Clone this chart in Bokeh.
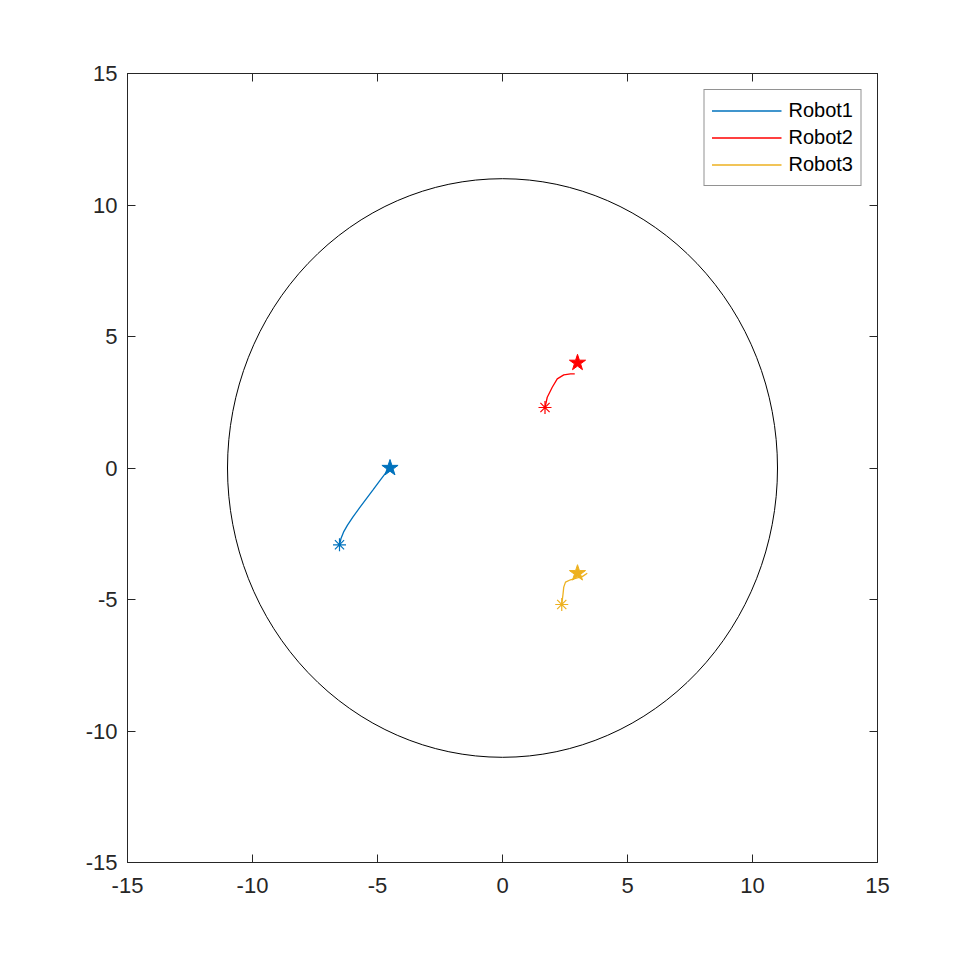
from bokeh.plotting import figure
from bokeh.models import Range1d, LinearAxis, FixedTicker, Legend, LegendItem
from bokeh.embed import file_html
from bokeh.resources import INLINE

# Data
ticks = [-15, -10, -5, 0, 5, 10, 15]
tick_labels = ["-15", "-10", "-5", "0", "5", "10", "15"]
circle_radius = 11
names = ["Robot1", "Robot2", "Robot3"]
colors = ["#0072BD", "#FF0000", "#EDB120"]

r1_x = [-6.52, -6.46, -6.36, -6.20, -5.98, -5.72, -5.45, -5.18, -4.92, -4.70, -4.55]
r1_y = [-2.92, -2.68, -2.44, -2.17, -1.86, -1.52, -1.17, -0.83, -0.50, -0.22, -0.03]
r2_x = [1.70, 1.79, 1.99, 2.19, 2.45, 2.72, 2.89]
r2_y = [2.30, 2.69, 3.07, 3.39, 3.54, 3.58, 3.58]
r3_x = [2.37, 2.42, 2.45, 2.52, 2.72, 2.99, 3.19, 3.39]
r3_y = [-5.19, -4.80, -4.53, -4.34, -4.25, -4.18, -4.13, -4.00]

start_x = [-6.52, 1.70, 2.37]
start_y = [-2.92, 2.30, -5.19]
goal_x = [-4.5, 3.0, 3.0]
goal_y = [0.0, 4.0, -4.0]

p = figure(width=950, height=950, output_backend="svg", toolbar_location=None,
           x_range=Range1d(-15, 15), y_range=Range1d(-15, 15),
           min_border_left=127, min_border_right=73, min_border_top=73, min_border_bottom=88)
p.grid.visible = False
p.outline_line_color = "#262626"
p.outline_line_width = 1

font = "Liberation Sans"
overrides = {t: l for t, l in zip(ticks, tick_labels)}
for ax in [p.xaxis[0], p.yaxis[0]]:
    ax.ticker = FixedTicker(ticks=ticks)
    ax.major_label_overrides = overrides
    ax.minor_tick_line_color = None
    ax.major_tick_in = 8
    ax.major_tick_out = 0
    ax.axis_line_color = "#262626"
    ax.major_tick_line_color = "#262626"
    ax.major_label_text_font = font
    ax.major_label_text_font_size = "22px"
    ax.major_label_text_color = "#262626"
p.xaxis[0].major_label_standoff = 15
p.yaxis[0].major_label_standoff = 10

for loc in ["right", "above"]:
    ax = LinearAxis(ticker=FixedTicker(ticks=ticks))
    ax.major_label_text_font_size = "0px"
    ax.minor_tick_line_color = None
    ax.major_tick_in = 8
    ax.major_tick_out = 0
    ax.axis_line_color = "#262626"
    ax.major_tick_line_color = "#262626"
    p.add_layout(ax, loc)

p.ellipse(x=[0], y=[0], width=[2 * circle_radius], height=[2 * circle_radius],
          fill_color=None, line_color="black", line_width=1)

items = []
for xs, ys, c, n in zip([r1_x, r2_x, r3_x], [r1_y, r2_y, r3_y], colors, names):
    r = p.line(xs, ys, line_color=c, line_width=1.3)
    items.append(LegendItem(label=n, renderers=[r]))

for i in range(3):
    p.scatter([start_x[i]], [start_y[i]], marker="asterisk", size=13, line_color=colors[i], line_width=1.2)
    p.scatter([goal_x[i]], [goal_y[i]], marker="star", size=17, fill_color=colors[i], line_color=colors[i])

legend = Legend(items=items, location="top_right")
legend.label_text_font = font
legend.label_text_font_size = "20px"
legend.label_text_color = "black"
legend.border_line_color = "#262626"
legend.glyph_width = 70
legend.label_standoff = 7
legend.spacing = 0
legend.padding = 7
legend.margin = 16
legend.label_height = 27
legend.glyph_height = 27
p.add_layout(legend)

open("out.html", "w").write(file_html(p, INLINE))
